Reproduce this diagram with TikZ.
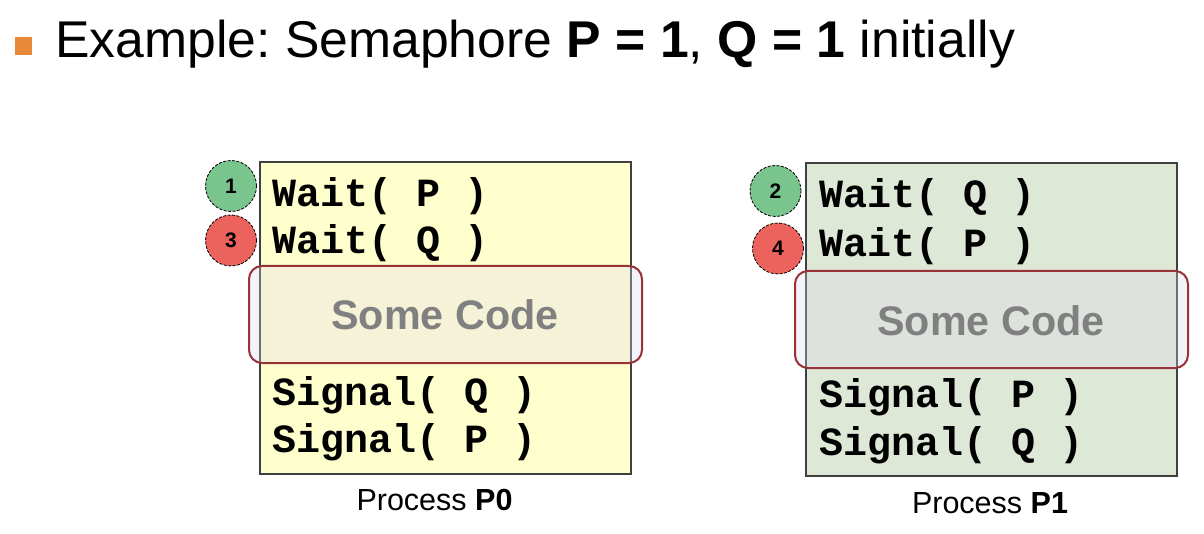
\documentclass[tikz,border=0pt]{standalone}
\usepackage{fontspec}
\setmainfont{Liberation Sans}
\newfontfamily\codefont{Liberation Mono}
\definecolor{bulletorange}{RGB}{232,137,58}
\definecolor{boxyellow}{RGB}{255,255,206}
\definecolor{boxgreen}{RGB}{221,232,214}
\definecolor{boxline}{RGB}{64,64,64}
\definecolor{overlayc}{RGB}{222,214,240}
\definecolor{codeline}{RGB}{150,50,56}
\definecolor{cgreen}{RGB}{122,196,142}
\definecolor{cred}{RGB}{236,98,92}
\definecolor{codegray}{RGB}{128,128,128}
\tikzset{
  procbox/.style={draw=boxline, line width=1.3pt, inner sep=0pt, minimum width=371pt},
  codeline/.style={anchor=base west, inner sep=0pt, font=\codefont\bfseries\fontsize{40}{40}\selectfont},
  somecode/.style={draw=codeline, line width=2pt, rounded corners=13pt, fill=overlayc, fill opacity=0.3, draw opacity=1, text opacity=1, inner sep=0pt, minimum width=393pt, minimum height=97pt},
  sctext/.style={anchor=base, inner sep=0pt, text=codegray, font=\bfseries\fontsize{41.3}{41}\selectfont},
  stepcirc/.style={circle, draw=black, line width=0.8pt, dash pattern=on 3pt off 1.5pt, minimum size=51pt, inner sep=0pt, font=\bfseries\fontsize{21}{21}\selectfont},
  proclabel/.style={anchor=base, inner sep=0pt, font=\fontsize{30.5}{30}\selectfont},
}
\begin{document}
\frenchspacing
\begin{tikzpicture}[x=1pt,y=-1pt]
\useasboundingbox (0,0) rectangle (1204,534);
% title
\fill[bulletorange] (15,37) rectangle (32,55);
\node[anchor=base west, inner sep=0pt, font=\fontsize{51.7}{52}\selectfont] (title) at (55,58)
  {Example: Semaphore \textbf{P = 1}, \textbf{Q = 1} initially};
% boxes
\node[procbox, fill=boxyellow, minimum height=312pt] (box0) at (445.5,318) {};
\node[procbox, fill=boxgreen, minimum height=313pt] (box1) at (991.5,319.5) {};
% code P0
\node[codeline] (a1) at (272,207) {Wait( P )};
\node[codeline] (a2) at (272,254) {Wait( Q )};
\node[codeline] (a3) at (272,405) {Signal( Q )};
\node[codeline] (a4) at (272,452) {Signal( P )};
% code P1
\node[codeline] (b1) at (819,208) {Wait( Q )};
\node[codeline] (b2) at (819,257) {Wait( P )};
\node[codeline] (b3) at (819,407) {Signal( P )};
\node[codeline] (b4) at (819,455) {Signal( Q )};
% step circles
\node[stepcirc, fill=cgreen] (s1) at (231,186) {1};
\node[stepcirc, fill=cred] (s3) at (231,240.5) {3};
\node[stepcirc, fill=cgreen] (s2) at (775.5,191) {2};
\node[stepcirc, fill=cred] (s4) at (778,248.5) {4};
% some code overlays
\node[somecode] (sc0) at (445.5,314.5) {};
\node[somecode] (sc1) at (991.5,319.5) {};
\node[sctext] (sct0) at (445,330) {Some Code};
\node[sctext] (sct1) at (991,335) {Some Code};
% labels
\node[proclabel] (l0) at (434.5,510) {Process \textbf{P0}};
\node[proclabel] (l1) at (990,513) {Process \textbf{P1}};
\end{tikzpicture}
\end{document}
